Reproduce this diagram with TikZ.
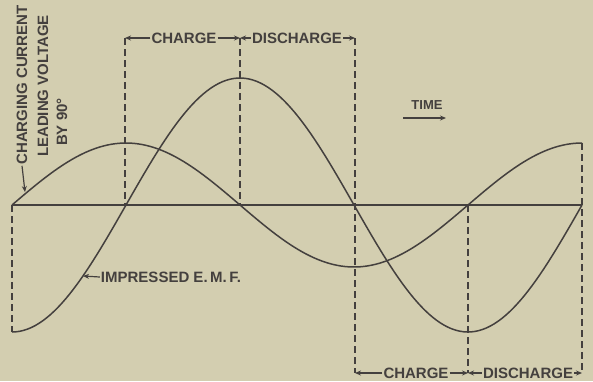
\documentclass[tikz,border=0pt]{standalone}
\usepackage{fontspec}
\setmainfont{Liberation Sans}
\usetikzlibrary{arrows.meta}
\definecolor{paper}{RGB}{211,206,176}
\definecolor{ink}{RGB}{68,64,62}
\tikzset{
  wave/.style={ink,line width=1.5pt},
  guide/.style={ink,line width=1.3pt,dash pattern=on 7pt off 4pt},
  lbl/.style={inner sep=1pt,text=ink,font=\fontsize{15}{17}\selectfont\bfseries},
  arr/.style={ink,line width=1.2pt,-{Stealth[length=6pt,width=5pt]}},
}
\begin{document}
\begin{tikzpicture}[x=1pt,y=-1pt]
\fill[paper] (0,0) rectangle (593,381);
\useasboundingbox (0,0) rectangle (593,381);

% axis
\coordinate (a0) at (12,205);
\coordinate (a1) at (582,205);
\draw[ink,line width=1.3pt] (a0) -- (a1);

% impressed e.m.f. and charging current
\draw[wave] plot[domain=12:582,samples=150] (\x,{205+127*cos((\x-12)/456*360)});
\draw[wave] plot[domain=12:582,samples=150] (\x,{205-62*sin((\x-12)/456*360)});

% guide lines
\coordinate (l) at (12,332);
\coordinate (t1) at (125,38);
\coordinate (t2) at (240,38);
\coordinate (t3) at (355,38);
\coordinate (m1) at (125,205);
\coordinate (m2) at (240,205);
\coordinate (m4) at (468,205);
\coordinate (r) at (582,143);
\coordinate (b1) at (355,373);
\coordinate (b2) at (468,373);
\coordinate (b3) at (582,373);

\draw[guide] (a0) -- (l);
\draw[guide] (t1) -- (m1);
\draw[guide] (t2) -- (m2);
\draw[guide] (t3) -- (b1);
\draw[guide] (m4) -- (b2);
\draw[guide] (r) -- (b3);

% brackets
\node[lbl] (chg1) at (184,38) {CHARGE};
\node[lbl] (dis1) at (297,38) {DISCHARGE};
\node[lbl] (chg2) at (416,373) {CHARGE};
\node[lbl] (dis2) at (528,373) {DISCHARGE};

\draw[arr] (chg1) -- (t1);
\draw[arr] (chg1) -- (t2);
\draw[arr] (dis1) -- (t2);
\draw[arr] (dis1) -- (t3);
\draw[arr] (chg2) -- (b1);
\draw[arr] (chg2) -- (b2);
\draw[arr] (dis2) -- (b2);
\draw[arr] (dis2) -- (b3);

% labels
\node[lbl,rotate=90] (lead1) at (22,85) {CHARGING CURRENT};
\node[lbl,rotate=90] (lead2) at (43,86) {LEADING VOLTAGE};
\node[lbl,rotate=90] (lead3) at (62,122) {BY 90°};
\coordinate (ci) at (25,192);
\draw[arr] (lead1.west) -- (ci);

\node[lbl] (emf) at (171,277) {IMPRESSED E.\,M.\,F.};
\coordinate (ei) at (83,276);
\draw[arr] (emf.west) -- (ei);

\node[lbl,font=\fontsize{13}{15}\selectfont\bfseries] (time) at (427,105) {TIME};
\coordinate (ts) at (403,118);
\coordinate (te) at (446,118);
\draw[arr] (ts) -- (te);
\end{tikzpicture}
\end{document}
